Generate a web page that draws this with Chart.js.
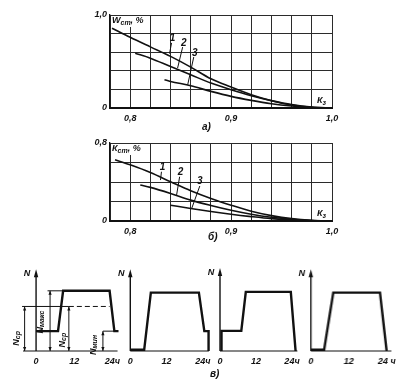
<!DOCTYPE html>
<html>
<head>
<meta charset="utf-8">
<script src="https://cdn.jsdelivr.net/npm/chart.js@4/dist/chart.umd.min.js"></script>
<style>
html, body { margin: 0; padding: 0; background: #fff; }
body { width: 415px; height: 389px; position: relative; overflow: hidden; }
.box { position: absolute; }
.cap { position: absolute; font: italic bold 10px "Liberation Sans", sans-serif; color: #111; }
</style>
</head>
<body>
<div class="box" style="left:75px;top:3px;width:270px;height:121px"><canvas id="chartA"></canvas></div>
<div class="cap" style="left:202px;top:121px">а)</div>
<div class="box" style="left:75px;top:133px;width:270px;height:105px"><canvas id="chartB"></canvas></div>
<div class="cap" style="left:208px;top:231px">б)</div>
<div class="box" id="boxP1"><canvas id="p1"></canvas></div>
<div class="box" id="boxP2"><canvas id="p2"></canvas></div>
<div class="box" id="boxP3"><canvas id="p3"></canvas></div>
<div class="box" id="boxP4"><canvas id="p4"></canvas></div>
<div class="cap" style="left:210px;top:368px">в)</div>

<script>
// сетка по Kз (шаг 0,02) и подписи
const kzTicks = [0.78, 0.80, 0.82, 0.84, 0.86, 0.88, 0.90, 0.92, 0.94, 0.96, 0.98, 1.00];
const kzLabelled = [0.8, 0.9, 1.0];
const yTicksA = [0, 0.2, 0.4, 0.6, 0.8, 1.0];
const yTicksB = [0, 0.2, 0.4, 0.6, 0.8];

// а) Wст, % — кривые 1, 2, 3
const a1x = [0.782, 0.80, 0.82, 0.84, 0.86, 0.88, 0.90, 0.92, 0.94, 0.96, 0.98, 1.0];
const a1y = [0.857, 0.76, 0.657, 0.555, 0.44, 0.314, 0.225, 0.143, 0.079, 0.032, 0.007, 0];
const a2x = [0.805, 0.82, 0.84, 0.86, 0.88, 0.90, 0.92, 0.94, 0.96, 0.98, 1.0];
const a2y = [0.589, 0.536, 0.446, 0.357, 0.268, 0.196, 0.132, 0.079, 0.036, 0.01, 0];
const a3x = [0.834, 0.84, 0.86, 0.88, 0.90, 0.92, 0.94, 0.96, 0.98, 1.0];
const a3y = [0.304, 0.286, 0.239, 0.179, 0.125, 0.082, 0.046, 0.021, 0.004, 0];
const aNames = ['1', '2', '3'];
const aNameX = [0.842, 0.853, 0.864];
const aNameY = [0.755, 0.70, 0.59];
const aLeadX = [[0.841, 0.839], [0.852, 0.847], [0.863, 0.857]];
const aLeadY = [[0.70, 0.585], [0.655, 0.43], [0.548, 0.25]];

// б) Кст, %
const b1x = [0.785, 0.80, 0.82, 0.84, 0.86, 0.88, 0.90, 0.92, 0.94, 0.96, 0.98, 1.0];
const b1y = [0.628, 0.576, 0.497, 0.403, 0.31, 0.231, 0.162, 0.1, 0.055, 0.024, 0.007, 0];
const b2x = [0.81, 0.82, 0.84, 0.86, 0.88, 0.90, 0.92, 0.94, 0.96, 0.98, 1.0];
const b2y = [0.369, 0.345, 0.283, 0.214, 0.159, 0.110, 0.069, 0.038, 0.017, 0.005, 0];
const b3x = [0.84, 0.86, 0.88, 0.90, 0.92, 0.94, 0.96, 0.98, 1.0];
const b3y = [0.162, 0.128, 0.097, 0.069, 0.045, 0.024, 0.01, 0.003, 0];
const bNames = ['1', '2', '3'];
const bNameX = [0.832, 0.850, 0.869];
const bNameY = [0.555, 0.495, 0.405];
const bLeadX = [[0.831, 0.830], [0.849, 0.846], [0.869, 0.861]];
const bLeadY = [[0.505, 0.42], [0.454, 0.267], [0.359, 0.13]];

// в) суточные графики нагрузки (часы / доля от максимума)
const hourTicks = [0, 12, 24];
const p1Hours = [0, 6.9, 8.5, 23.1, 24.6, 25.9];
const p1Load = [0.33, 0.33, 1, 1, 0.33, 0.33];
const p2Hours = [0, 4.6, 6.8, 22.7, 24.5, 25.9, 25.9];
const p2Load = [0.02, 0.02, 0.97, 0.97, 0.33, 0.33, 0];
const p3Hours = [0.5, 0.5, 7.1, 8.6, 23.6, 25.2];
const p3Load = [0, 0.33, 0.33, 0.97, 0.97, 0];
const p4Hours = [0, 4.2, 7.1, 21.9, 24];
const p4Load = [0.02, 0.02, 0.97, 0.97, 0];

// размерные линии на первом графике
const p1AvgLevel = 0.74;
const p1AvgSolid = [-4.4, 10.3];
const p1AvgDash = [10.3, 23.1];
const p1TopExt = [3.6, 8.5];
const p1LowExt = [21.0, 24.6];
const p1DimHours = [-3.6, 4.4, 10.3, 21.0];
const p1DimTop = [0.74, 1, 0.74, 0.33];
const p1DimNames = [['N', 'ср'], ['N', 'макс'], ['N', 'ср'], ['N', 'мин']];
const p1DimNameX = [-6.15, 1.3, 8.2, 17.9];
const p1DimNameY = [0.21, 0.48, 0.18, 0.1];

const INK = '#111';
const GRID = '#2b2b2b';
const fontTick = { family: 'Liberation Sans', size: 9, style: 'italic', weight: 'bold' };

function pts(xs, ys) {
    return xs.map((x, i) => ({ x: x, y: ys[i] }));
}

function fontStr(size) {
    return 'italic bold ' + size + 'px "Liberation Sans"';
}

// ширина надписи с индексом
function subWidth(ctx, main, sub, rest, size) {
    ctx.font = fontStr(size);
    let w = ctx.measureText(main).width;
    ctx.font = fontStr(size - 2);
    w += ctx.measureText(sub).width;
    if (rest) {
        ctx.font = fontStr(size);
        w += ctx.measureText(rest).width;
    }
    return w;
}

function drawSub(ctx, main, sub, rest, x, y, size) {
    ctx.textAlign = 'left';
    ctx.textBaseline = 'middle';
    ctx.font = fontStr(size);
    ctx.fillText(main, x, y);
    let w = ctx.measureText(main).width;
    ctx.font = fontStr(size - 2);
    ctx.fillText(sub, x + w, y + 2);
    w += ctx.measureText(sub).width;
    if (rest) {
        ctx.font = fontStr(size);
        ctx.fillText(rest, x + w, y);
    }
}

function fmt(v) {
    return v.toFixed(1).replace('.', ',');
}

function makeKzChart(id, cfg) {
    const curveSets = cfg.curves.map(c => ({
        data: pts(c[0], c[1]),
        borderColor: INK,
        borderWidth: 1.6,
        pointRadius: 0,
        cubicInterpolationMode: 'monotone'
    }));
    const leadSets = cfg.leadX.map((lx, i) => ({
        data: pts(lx, cfg.leadY[i]),
        borderColor: INK,
        borderWidth: 1,
        pointRadius: 0
    }));

    const decor = {
        id: 'decor',
        afterDatasetsDraw(chart) {
            const { ctx, chartArea: a, scales } = chart;
            ctx.save();
            ctx.fillStyle = INK;
            // подпись оси ординат в левом верхнем углу
            const w = subWidth(ctx, cfg.title[0], cfg.title[1], cfg.title[2], 9);
            ctx.fillStyle = '#fff';
            ctx.fillRect(a.left + 1, a.top + 1, w + 3, 11);
            ctx.fillStyle = INK;
            drawSub(ctx, cfg.title[0], cfg.title[1], cfg.title[2], a.left + 2, a.top + 6, 9);
            // Kз у правого края
            drawSub(ctx, 'К', 'з', '', a.right - 15, a.bottom - 7, 9);
            // номера кривых
            ctx.font = fontStr(10);
            ctx.textAlign = 'center';
            ctx.textBaseline = 'middle';
            cfg.names.forEach((n, i) => {
                ctx.fillText(n, scales.x.getPixelForValue(cfg.nameX[i]), scales.y.getPixelForValue(cfg.nameY[i]));
            });
            ctx.restore();
        }
    };

    return new Chart(document.getElementById(id), {
        type: 'line',
        data: { datasets: curveSets.concat(leadSets) },
        options: {
            responsive: true,
            maintainAspectRatio: false,
            animation: false,
            layout: { padding: { top: cfg.padTop, right: 13, left: 0, bottom: 0 } },
            plugins: { legend: { display: false }, tooltip: { enabled: false } },
            scales: {
                x: {
                    type: 'linear',
                    min: 0.78,
                    max: 1.0,
                    afterBuildTicks: s => { s.ticks = kzTicks.map(v => ({ value: v })); },
                    afterFit: s => { s.height = cfg.xHeight; s.paddingLeft = 0; s.paddingRight = 0; },
                    grid: { color: GRID, lineWidth: 1, drawTicks: false },
                    border: { color: INK, width: 2 },
                    ticks: {
                        autoSkip: false,
                        maxRotation: 0,
                        padding: 5,
                        color: INK,
                        font: fontTick,
                        callback: v => kzLabelled.some(l => Math.abs(l - v) < 1e-6) ? fmt(v) : ''
                    }
                },
                y: {
                    min: 0,
                    max: cfg.yMax,
                    afterBuildTicks: s => { s.ticks = cfg.yTicks.map(v => ({ value: v })); },
                    afterFit: s => { s.width = 35; s.paddingTop = 0; s.paddingBottom = 0; },
                    grid: { color: GRID, lineWidth: 1, drawTicks: false },
                    border: { color: INK, width: 1.3 },
                    ticks: {
                        padding: 3,
                        color: INK,
                        font: fontTick,
                        callback: v => v === 0 ? '0' : (Math.abs(v - cfg.yMax) < 1e-6 ? fmt(v) : '')
                    }
                }
            }
        },
        plugins: [decor]
    });
}

makeKzChart('chartA', {
    curves: [[a1x, a1y], [a2x, a2y], [a3x, a3y]],
    leadX: aLeadX, leadY: aLeadY,
    names: aNames, nameX: aNameX, nameY: aNameY,
    title: ['W', 'ст', ', %'],
    yMax: 1.0, yTicks: yTicksA,
    padTop: 12, xHeight: 16
});

makeKzChart('chartB', {
    curves: [[b1x, b1y], [b2x, b2y], [b3x, b3y]],
    leadX: bLeadX, leadY: bLeadY,
    names: bNames, nameX: bNameX, nameY: bNameY,
    title: ['К', 'ст', ', %'],
    yMax: 0.8, yTicks: yTicksB,
    padTop: 10, xHeight: 17
});

// ---------- в) ----------
const PROFILE_TOP = 262;   // верх области
const PROFILE_BASE = 351;  // ось времени
const UNIT = 61;           // пикселей на максимум нагрузки

function arrowHead(ctx, x, y, dir, len, half) {
    ctx.beginPath();
    ctx.moveTo(x, y);
    ctx.lineTo(x - half, y + dir * len);
    ctx.lineTo(x + half, y + dir * len);
    ctx.closePath();
    ctx.fill();
}

function makeProfile(id, boxId, cfg) {
    const box = document.getElementById(boxId);
    box.style.left = (cfg.axisX + cfg.xMin * cfg.pph) + 'px';
    box.style.width = ((cfg.xMax - cfg.xMin) * cfg.pph) + 'px';
    box.style.top = PROFILE_TOP + 'px';
    box.style.height = (PROFILE_BASE - PROFILE_TOP + 20) + 'px';

    const datasets = [{
        data: pts(cfg.hours, cfg.load),
        borderColor: INK,
        borderWidth: 2.4,
        pointRadius: 0,
        borderJoinStyle: 'miter'
    }];
    (cfg.extra || []).forEach(e => datasets.push({
        data: pts(e.x, e.y),
        borderColor: INK,
        borderWidth: 1,
        borderDash: e.dash || [],
        pointRadius: 0
    }));

    const axes = {
        id: 'axes',
        afterDatasetsDraw(chart) {
            const { ctx, scales: { x, y } } = chart;
            const x0 = x.getPixelForValue(0);
            const yb = y.getPixelForValue(0);
            const yTip = y.getPixelForValue(1.36);
            ctx.save();
            ctx.strokeStyle = INK;
            ctx.fillStyle = INK;
            // ось времени
            ctx.lineWidth = 1.2;
            ctx.beginPath();
            ctx.moveTo(x.getPixelForValue(cfg.baseFrom), yb);
            ctx.lineTo(x.getPixelForValue(cfg.baseTo), yb);
            ctx.stroke();
            // ось N со стрелкой
            ctx.lineWidth = 1.4;
            ctx.beginPath();
            ctx.moveTo(x0, yb);
            ctx.lineTo(x0, yTip + 5);
            ctx.stroke();
            arrowHead(ctx, x0, yTip, 1, 8, 2.2);
            ctx.font = fontStr(9);
            ctx.textAlign = 'center';
            ctx.textBaseline = 'middle';
            ctx.fillText('N', x0 - 9, yTip + 4);
            // размерные линии
            ctx.lineWidth = 1;
            (cfg.dimHours || []).forEach((t, i) => {
                const px = x.getPixelForValue(t);
                const py = y.getPixelForValue(cfg.dimTop[i]);
                ctx.beginPath();
                ctx.moveTo(px, yb);
                ctx.lineTo(px, py);
                ctx.stroke();
                arrowHead(ctx, px, py, 1, 4, 1.6);
                arrowHead(ctx, px, yb, -1, 4, 1.6);
            });
            // подписи размеров (повёрнутые)
            (cfg.dimNames || []).forEach((n, i) => {
                const px = x.getPixelForValue(cfg.dimNameX[i]);
                const py = y.getPixelForValue(cfg.dimNameY[i]);
                const w = subWidth(ctx, n[0], n[1], '', 9);
                ctx.save();
                ctx.translate(px, py);
                ctx.rotate(-Math.PI / 2);
                drawSub(ctx, n[0], n[1], '', -w / 2, 0, 9);
                ctx.restore();
            });
            ctx.restore();
        }
    };

    return new Chart(document.getElementById(id), {
        type: 'line',
        data: { datasets: datasets },
        options: {
            responsive: true,
            maintainAspectRatio: false,
            animation: false,
            layout: { padding: 0 },
            plugins: { legend: { display: false }, tooltip: { enabled: false } },
            scales: {
                x: {
                    type: 'linear',
                    min: cfg.xMin,
                    max: cfg.xMax,
                    afterBuildTicks: s => { s.ticks = hourTicks.map(v => ({ value: v })); },
                    afterFit: s => { s.height = 20; s.paddingLeft = 0; s.paddingRight = 0; },
                    grid: { display: false, drawTicks: false },
                    border: { display: false },
                    ticks: {
                        autoSkip: false,
                        maxRotation: 0,
                        padding: 5,
                        color: INK,
                        font: fontTick,
                        callback: v => v === 24 ? cfg.lastLabel : String(v)
                    }
                },
                y: { display: false, min: 0, max: (PROFILE_BASE - PROFILE_TOP) / UNIT }
            }
        },
        plugins: [axes]
    });
}

makeProfile('p1', 'boxP1', {
    axisX: 35, pph: 3.25, xMin: -7.5, xMax: 27.5,
    hours: p1Hours, load: p1Load,
    baseFrom: -4.1, baseTo: 25.6, lastLabel: '24ч',
    extra: [
        { x: p1AvgSolid, y: [p1AvgLevel, p1AvgLevel] },
        { x: p1AvgDash, y: [p1AvgLevel, p1AvgLevel], dash: [5, 3] },
        { x: p1TopExt, y: [1, 1] },
        { x: p1LowExt, y: [0.33, 0.33] }
    ],
    dimHours: p1DimHours, dimTop: p1DimTop,
    dimNames: p1DimNames, dimNameX: p1DimNameX, dimNameY: p1DimNameY
});

makeProfile('p2', 'boxP2', {
    axisX: 129, pph: 3.1, xMin: -4, xMax: 27.5,
    hours: p2Hours, load: p2Load,
    baseFrom: 0, baseTo: 26, lastLabel: '24ч'
});

makeProfile('p3', 'boxP3', {
    axisX: 219.5, pph: 3.0, xMin: -4, xMax: 28,
    hours: p3Hours, load: p3Load,
    baseFrom: 0, baseTo: 25.8, lastLabel: '24ч'
});

makeProfile('p4', 'boxP4', {
    axisX: 310, pph: 3.2, xMin: -4, xMax: 29,
    hours: p4Hours, load: p4Load,
    baseFrom: 0, baseTo: 25.5, lastLabel: '24 ч'
});
</script>
</body>
</html>
